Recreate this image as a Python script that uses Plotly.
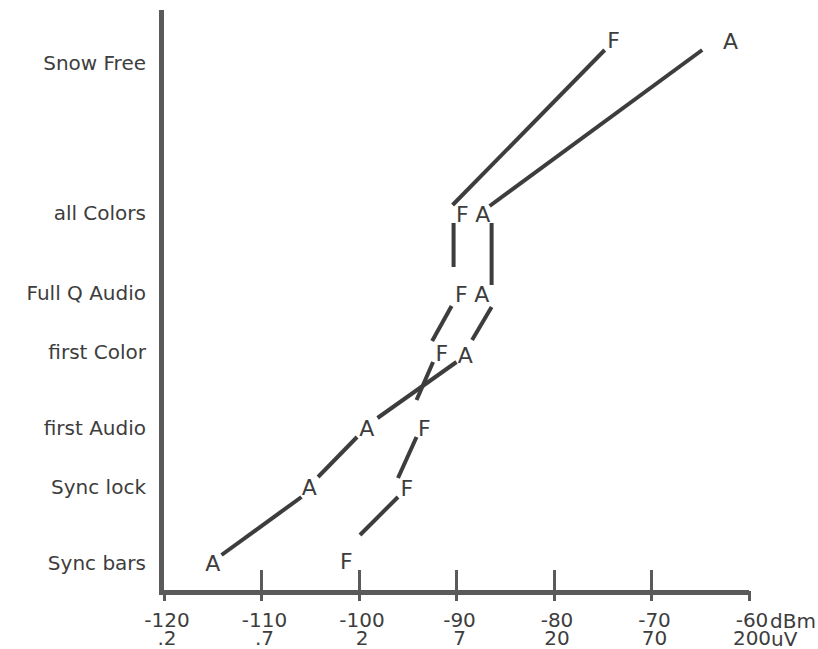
import plotly.graph_objects as go

# Signal thresholds, F and A receivers (dBm), per reception stage
categories = [ "Sync bars", "Sync lock", "first Audio", "first Color", "Full Q Audio", "all Colors", "Snow Free" ];
levels = [ 2.9, 10.5, 16.4, 24.0, 29.9, 37.9, 52.9 ];

f_dbm = [ -101.3, -95.1, -93.3, -91.5, -89.5, -89.4, -73.9 ];
f_level = [ 2.9, 10.2, 16.2, 23.7, 29.6, 37.6, 55.0 ];
a_dbm = [ -115.0, -105.1, -99.2, -89.1, -87.4, -87.3, -61.9 ];
a_level = [ 2.7, 10.3, 16.2, 23.5, 29.6, 37.6, 54.9 ];

# connecting strokes (drawn with gaps around the letters)
f_seg_x0 = [ -99.9, -96.0, -94.1, -92.5, -90.3, -90.4 ];
f_seg_y0 = [ 5.7, 11.4, 19.2, 25.1, 32.5, 38.7 ];
f_seg_x1 = [ -96.0, -94.1, -92.4, -90.5, -90.3, -74.8 ];
f_seg_y1 = [ 9.5, 15.5, 23.0, 28.6, 36.9, 54.2 ];

a_seg_x0 = [ -114.1, -104.2, -98.1, -88.4, -86.4, -86.6 ];
a_seg_y0 = [ 3.7, 11.5, 17.4, 25.2, 30.7, 38.6 ];
a_seg_x1 = [ -105.9, -100.2, -90.0, -86.4, -86.4, -64.8 ];
a_seg_y1 = [ 9.5, 15.5, 23.0, 28.5, 36.9, 54.2 ];

tick_dbm = [ -120, -110, -100, -90, -80, -70, -60 ];
tick_uv = [ ".2", ".7", "2", "7", "20", "70", "200" ];

INK = "#3d3d3d";
AXIS = "#5a5a5a";
FONT = "DejaVu Sans";


def segments(x0, y0, x1, y1):
    xs = [];
    ys = [];
    for i in range(len(x0)):
        xs += [ x0[i], x1[i], None ];
        ys += [ y0[i], y1[i], None ];
    return xs, ys;


fig = go.Figure();
for sx0, sy0, sx1, sy1 in [ (f_seg_x0, f_seg_y0, f_seg_x1, f_seg_y1),
                            (a_seg_x0, a_seg_y0, a_seg_x1, a_seg_y1) ]:
    xs, ys = segments(sx0, sy0, sx1, sy1);
    fig.add_trace(go.Scatter(x = xs, y = ys, mode = "lines",
                             line = { "color": INK, "width": 4 },
                             showlegend = False, hoverinfo = "skip"));

fig.add_trace(go.Scatter(x = f_dbm, y = f_level, mode = "text", text = [ "F" ] * len(f_dbm),
                         textfont = { "family": FONT, "size": 22, "color": INK },
                         showlegend = False, cliponaxis = False));
fig.add_trace(go.Scatter(x = a_dbm, y = a_level, mode = "text", text = [ "A" ] * len(a_dbm),
                         textfont = { "family": FONT, "size": 22, "color": INK },
                         showlegend = False, cliponaxis = False));
# second x axis carries the uV row and the lower half of the tick marks
fig.add_trace(go.Scatter(x = tick_dbm, y = [ None ] * len(tick_dbm), xaxis = "x2",
                         showlegend = False, hoverinfo = "skip"));

fig.update_layout(
    width = 818, height = 649, autosize = False,
    margin = { "l": 164, "r": 69, "t": 10, "b": 59 },
    paper_bgcolor = "white", plot_bgcolor = "white",
    font = { "family": FONT, "size": 20, "color": INK },
    xaxis = { "range": [ -120, -60 ], "tickvals": tick_dbm, "ticktext": [ str(v) for v in tick_dbm ],
              "ticks": "inside", "ticklen": 20, "tickwidth": 3, "tickcolor": AXIS,
              "showline": True, "linewidth": 5, "linecolor": AXIS, "automargin": False,
              "showgrid": False, "zeroline": False, "tickfont": { "size": 20 },
              "ticklabelstandoff": 8, "ticklabelshift": 3 },
    xaxis2 = { "range": [ -120, -60 ], "overlaying": "x", "side": "bottom", "automargin": False,
               "tickvals": tick_dbm, "ticktext": tick_uv,
               "ticks": "outside", "ticklen": 10, "tickwidth": 3, "tickcolor": AXIS,
               "showline": False, "showgrid": False, "zeroline": False,
               "tickfont": { "size": 20 }, "ticklabelstandoff": 20, "ticklabelshift": 3 },
    yaxis = { "range": [ 0.2, 58.2 ], "tickvals": levels, "ticktext": categories,
              "ticks": "", "showline": True, "linewidth": 5, "linecolor": AXIS, "automargin": False,
              "showgrid": False, "zeroline": False, "ticklabelstandoff": 9 },
);

# units appended after the last tick label
fig.add_annotation(x = -60, xref = "x", y = 0, yref = "paper", text = "dBm", showarrow = False,
                   xanchor = "left", yanchor = "top", xshift = 19, yshift = -17,
                   font = { "size": 20, "color": INK });
fig.add_annotation(x = -60, xref = "x", y = 0, yref = "paper", text = "uV", showarrow = False,
                   xanchor = "left", yanchor = "top", xshift = 20, yshift = -35,
                   font = { "size": 20, "color": INK });

fig.write_html("out.html", config = { "displayModeBar": False },
               post_script = "document.body.style.margin='0';");
